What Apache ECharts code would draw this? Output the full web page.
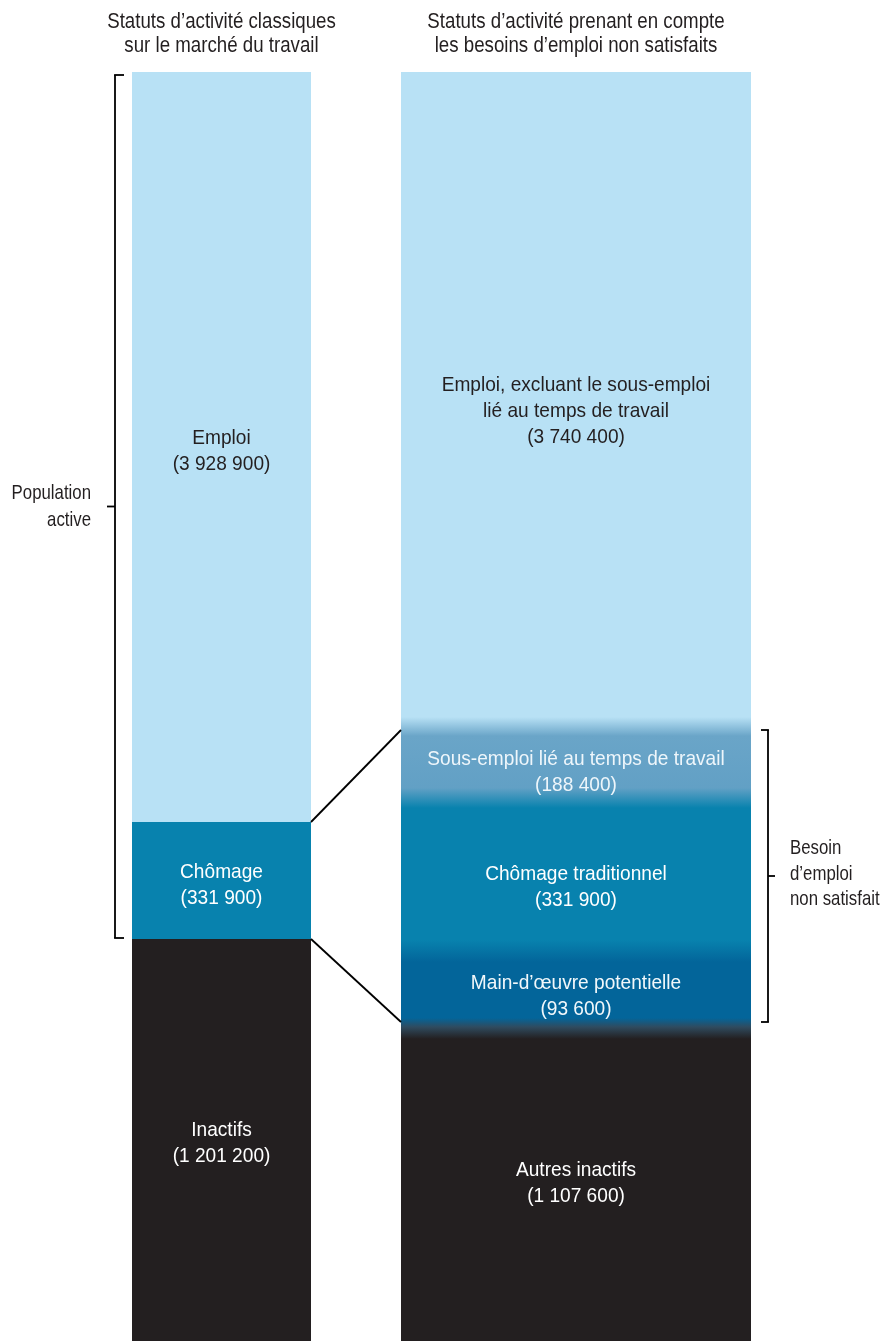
<!DOCTYPE html>
<html>
<head>
<meta charset="utf-8">
<script src="https://cdn.jsdelivr.net/npm/echarts@6/dist/echarts.min.js"></script>
<style>
html,body{margin:0;padding:0;background:#fff;}
#c{width:893px;height:1341px;}
</style>
</head>
<body>
<div id="c"></div>
<script>
// ---- data ----
const titles = ['Statuts d’activité classiques\nsur le marché du travail',
                'Statuts d’activité prenant en compte\nles besoins d’emploi non satisfaits'];
const leftCategories = ['Emploi', 'Chômage', 'Inactifs'];
const leftValues = [3928900, 331900, 1201200];
const rightCategories = ['Emploi, excluant le sous-emploi\nlié au temps de travail',
                         'Sous-emploi lié au temps de travail',
                         'Chômage traditionnel',
                         'Main-d’œuvre potentielle',
                         'Autres inactifs'];
const rightValues = [3740400, 188400, 331900, 93600, 1107600];
// the original diagram is schematic (not to scale): drawn band extents in diagram units
const leftBands = [750, 117, 402];
const rightBands = [655, 73, 151, 75, 315];
const bracketLabels = ['Population\nactive', 'Besoin\nd’emploi\nnon satisfait'];

// ---- style ----
const FONT = '"Liberation Sans", Arial, sans-serif';
const INK = '#231f20';
const LIGHT = '#b8e1f5', SOUS = '#62a0c5', CHOM = '#0882ae', MO = '#03659a', DARK = '#231f20';
const leftColors = [LIGHT, CHOM, DARK];
const leftText = [INK, '#ffffff', '#ffffff'];
const leftDy = [4, 5, 3];
const rightText = [INK, '#eef6fb', '#ffffff', '#f2f8fb', '#ffffff'];
const rightDy = [12, 9, 12, 8, 0];
const FS = 21, LH = 26;

function fmt(v) { return String(v).replace(/\B(?=(\d{3})+(?!\d))/g, ' '); }

const total = leftBands.reduce((a, b) => a + b, 0);
const grids = [
  { left: 132, width: 179, top: 72, bottom: 0 },
  { left: 401, width: 350, top: 72, bottom: 0 }
];

const cumL = [], cum = [];
leftBands.reduce((a, b) => { cumL.push(a + b); return a + b; }, 0);
rightBands.reduce((a, b) => { cum.push(a + b); return a + b; }, 0);

// gradient for the right bar built from cumulative band boundaries
const f = v => Math.max(0, Math.min(1, v / total));
const gradStops = [
  { offset: 0, color: LIGHT },
  { offset: f(cum[0] - 10), color: LIGHT },
  { offset: f(cum[0] + 9), color: '#6aa5c8' },
  { offset: f(cum[1] - 12), color: SOUS },
  { offset: f(cum[1] + 8), color: CHOM },
  { offset: f(cum[2] - 11), color: CHOM },
  { offset: f(cum[2] + 11), color: MO },
  { offset: f(cum[3] - 8), color: MO },
  { offset: f(cum[3] + 1), color: '#2f4b5f' },
  { offset: f(cum[3] + 13), color: DARK },
  { offset: 1, color: DARK }
];

const option = {
  animation: false,
  backgroundColor: '#ffffff',
  grid: grids,
  xAxis: grids.map((g, i) => ({ type: 'category', gridIndex: i, data: [''], show: false })),
  yAxis: grids.map((g, i) => ({ type: 'value', gridIndex: i, min: 0, max: total, inverse: true, show: false })),
  series: [
    ...leftBands.map((b, i) => ({
      type: 'bar', xAxisIndex: 0, yAxisIndex: 0, stack: 'left', barWidth: '100%', silent: true,
      data: [b], itemStyle: { color: leftColors[i] }
    })),
    {
      type: 'bar', xAxisIndex: 1, yAxisIndex: 1, barWidth: '100%', silent: true,
      data: [total],
      itemStyle: { color: { type: 'linear', x: 0, y: 0, x2: 0, y2: 1, colorStops: gradStops } }
    }
  ]
};

const chart = echarts.init(document.getElementById('c'), null, { renderer: 'canvas' });
chart.setOption(option);

// ---- labels & annotations positioned through the axes ----
const yL = v => chart.convertToPixel({ yAxisIndex: 0 }, v);
const yR = v => chart.convertToPixel({ yAxisIndex: 1 }, v);
const lx0 = grids[0].left, lx1 = grids[0].left + grids[0].width;
const rx0 = grids[1].left, rx1 = grids[1].left + grids[1].width;
const lEmpBot = yL(cumL[0]);
const lChomBot = yL(cumL[1]);
const rBesTop = yR(cum[0]) + 3;
const rBesBot = yR(cum[3]) - 4;
const line = (x1, y1, x2, y2) => ({ type: 'line', shape: { x1, y1, x2, y2 }, style: { stroke: '#000', lineWidth: 1.8 }, z: 10 });
const text = (x, y, t, fs, lh, color, align, sx) => ({
  type: 'text', x, y, scaleX: sx, z: 20,
  style: { text: t, font: fs + 'px ' + FONT, fill: color, align, verticalAlign: 'middle', lineHeight: lh }
});

const bTop = yL(0) + 3, bBot = lChomBot - 1, bx = lx0 - 17, bMid = (bTop + bBot) / 2;
const rbx = rx1 + 17, rMid = (rBesTop + rBesBot) / 2;

const graphics = [
  text((lx0 + lx1) / 2, 34, titles[0], 22, 24, INK, 'center', 0.85),
  text((rx0 + rx1) / 2, 34, titles[1], 22, 24, INK, 'center', 0.85),
  line(lx1, lEmpBot, rx0, rBesTop),
  line(lx1, lChomBot, rx0, rBesBot),
  // left bracket
  line(bx, bTop, bx, bBot),
  line(bx - 0.9, bTop, bx + 9, bTop),
  line(bx - 0.9, bBot, bx + 9, bBot),
  line(bx - 8, bMid, bx, bMid),
  // right bracket
  line(rbx, rBesTop, rbx, rBesBot),
  line(rbx + 0.9, rBesTop, rbx - 7, rBesTop),
  line(rbx + 0.9, rBesBot, rbx - 7, rBesBot),
  line(rbx, rMid, rbx + 7, rMid),
  text(bx - 24, bMid, bracketLabels[0], FS, 27, INK, 'right', 0.8),
  text(rbx + 22, rMid - 2, bracketLabels[1], FS, 25.5, INK, 'left', 0.8)
];
leftBands.forEach((b, i) => {
  const yc = yL(cumL[i] - b / 2) + leftDy[i];
  graphics.push(text((lx0 + lx1) / 2, yc, leftCategories[i] + '\n(' + fmt(leftValues[i]) + ')', FS, LH, leftText[i], 'center', 0.91));
});
rightBands.forEach((b, i) => {
  const yc = yR(cum[i] - b / 2) + rightDy[i];
  graphics.push(text((rx0 + rx1) / 2, yc, rightCategories[i] + '\n(' + fmt(rightValues[i]) + ')', FS, LH, rightText[i], 'center', 0.91));
});
chart.setOption({ graphic: graphics });
</script>
</body>
</html>
